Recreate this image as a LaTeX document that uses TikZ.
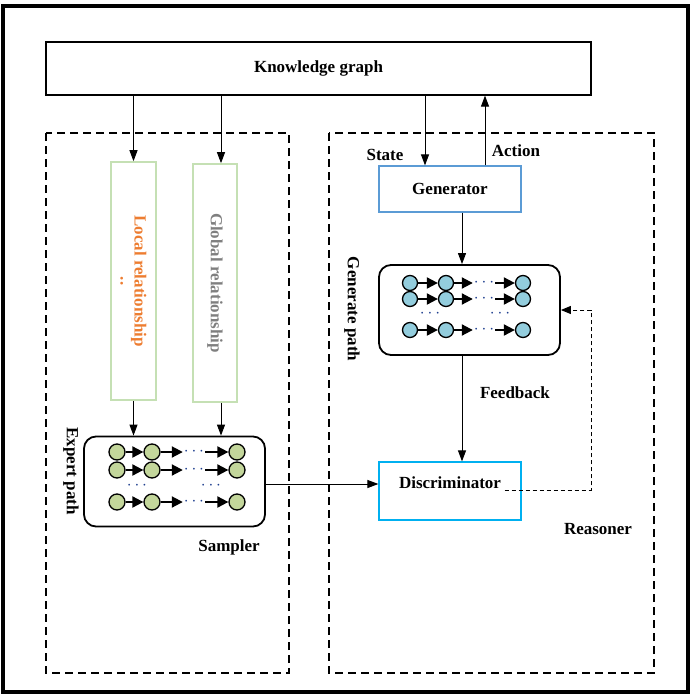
\documentclass[tikz,border=0pt]{standalone}
\usepackage{fontspec}
\setmainfont{Liberation Serif}
\usetikzlibrary{arrows.meta}
\definecolor{relgreen}{HTML}{C5E0B4}
\definecolor{relorange}{HTML}{ED7D31}
\definecolor{relgray}{HTML}{7F7F7F}
\definecolor{genblue}{HTML}{5B9BD5}
\definecolor{discblue}{HTML}{00B0F0}
\definecolor{entgreen}{HTML}{C3D69B}
\definecolor{entblue}{HTML}{93CDDD}
\definecolor{dotblue}{HTML}{1F3F8F}
\newcommand{\labelfont}{\bfseries\fontsize{17}{20}\selectfont}
\tikzstyle{frame} = [draw=black, line width=3.5pt]
\tikzstyle{group} = [draw=black, line width=1.8pt, dash pattern=on 8pt off 5pt]
\tikzstyle{block} = [rectangle, draw=black, line width=1.2pt, text centered,
  font=\labelfont]
\tikzstyle{relbox} = [rectangle, draw=relgreen, line width=1.6pt, rotate=-90,
  align=center, font=\labelfont]
\tikzstyle{pathbox} = [rectangle, rounded corners=12pt, draw=black,
  line width=1.8pt]
\tikzstyle{ent} = [circle, draw=black, line width=1.3pt, minimum size=16pt,
  inner sep=0pt]
\tikzstyle{dots} = [text=dotblue, inner sep=0pt, minimum width=22pt,
  font=\bfseries\fontsize{18}{18}\selectfont]
\tikzstyle{tag} = [font=\labelfont]
\tikzstyle{arrow} = [line width=1pt, -{Triangle[length=11pt,width=8pt]}]
\tikzstyle{chain} = [line width=2pt, -{Triangle[length=11pt,width=11pt]}]
\tikzstyle{fbline} = [line width=1pt, dash pattern=on 4pt off 3pt,
  -{Triangle[length=10pt,width=8pt]}]

\begin{document}
\begin{tikzpicture}[x=1pt, y=-1pt]
  \useasboundingbox (0,0) rectangle (694,696);

  %% Frame and groups
  \draw [frame] (3,6) rectangle (688,692);
  \draw [group] (46,133) rectangle (289,673);
  \draw [group] (329,133) rectangle (654,673);

  %% Blocks
  \node (kg) [block, minimum width=545pt, minimum height=53pt] at (318.5,68.5) {Knowledge graph};
  \node (local) [relbox, text=relorange, minimum width=238pt, minimum height=45pt] at (133.5,281) {Local relationship\\[-6pt]..};
  \node (global) [relbox, text=relgray, minimum width=238pt, minimum height=44pt] at (215,283) {Global relationship};
  \node (sampler) [pathbox, minimum width=181pt, minimum height=90pt] at (174.5,481.5) {};
  \node (gen) [block, draw=genblue, minimum width=142pt, minimum height=46pt] at (450,189) {Generator};
  \node (gpath) [pathbox, minimum width=181pt, minimum height=90pt] at (469.5,310) {};
  \node (disc) [block, draw=discblue, minimum width=142pt, minimum height=58pt] at (450,491) {};
  \node (disclbl) [tag] at (450,483) {Discriminator};

  %% Labels
  \node (expert) [tag, rotate=-90] at (71,471) {Expert path};
  \node (generate) [tag, rotate=-90] at (352,309) {Generate path};
  \node (state) [tag] at (385,155) {State};
  \node (action) [tag] at (516,151) {Action};
  \node (feedback) [tag] at (515,393) {Feedback};
  \node (samplerlbl) [tag] at (229,547) {Sampler};
  \node (reasoner) [tag] at (598,529) {Reasoner};

  %% Expert paths
  \foreach \r/\y in {1/452, 2/470, 3/502} {
    \node (sa\r) [ent, fill=entgreen] at (117,\y) {};
    \node (sb\r) [ent, fill=entgreen] at (152,\y) {};
    \node (sd\r) [dots] at (194,\y) {$\cdots$};
    \node (sc\r) [ent, fill=entgreen] at (237,\y) {};
    \draw [chain] (sa\r) -- (sb\r);
    \draw [chain] (sb\r) -- (sd\r.west);
    \draw [chain] (sd\r.east) -- (sc\r);
  }
  \node (sv1) [dots] at (137,486) {$\cdots$};
  \node (sv2) [dots] at (211,486) {$\cdots$};

  %% Generated paths
  \foreach \r/\y in {1/283, 2/299, 3/330} {
    \node (ga\r) [ent, fill=entblue, minimum size=15pt] at (410,\y) {};
    \node (gb\r) [ent, fill=entblue, minimum size=15pt] at (446,\y) {};
    \node (gd\r) [dots] at (484,\y) {$\cdots$};
    \node (gc\r) [ent, fill=entblue, minimum size=15pt] at (523,\y) {};
    \draw [chain] (ga\r) -- (gb\r);
    \draw [chain] (gb\r) -- (gd\r.west);
    \draw [chain] (gd\r.east) -- (gc\r);
  }
  \node (gv1) [dots] at (430,314) {$\cdots$};
  \node (gv2) [dots] at (500,314) {$\cdots$};

  %% Connectors
  \coordinate (gx) at (221,0);
  \coordinate (sx) at (425,0);
  \coordinate (ax) at (485,0);
  \coordinate (fx) at (462,0);
  \coordinate (hy) at (0,484);
  \coordinate (fb) at (591,490);

  \draw [arrow] (kg.south -| local.west) -- (local.west);
  \draw [arrow] (kg.south -| gx) -- (global.west -| gx);
  \draw [arrow] (local.east) -- (sampler.north -| local.east);
  \draw [arrow] (global.east -| gx) -- (sampler.north -| gx);
  \draw [arrow] (kg.south -| sx) -- (gen.north -| sx);
  \draw [arrow] (gen.north -| ax) -- (kg.south -| ax);
  \draw [arrow] (gen.south -| fx) -- (gpath.north -| fx);
  \draw [arrow] (gpath.south -| fx) -- (disc.north -| fx);
  \draw [arrow] (sampler.east |- hy) -- (disc.west |- hy);

  %% Feedback loop
  \draw [fbline] (disclbl.east |- fb) -- (fb) |- (gpath.east);

\end{tikzpicture}
\end{document}
